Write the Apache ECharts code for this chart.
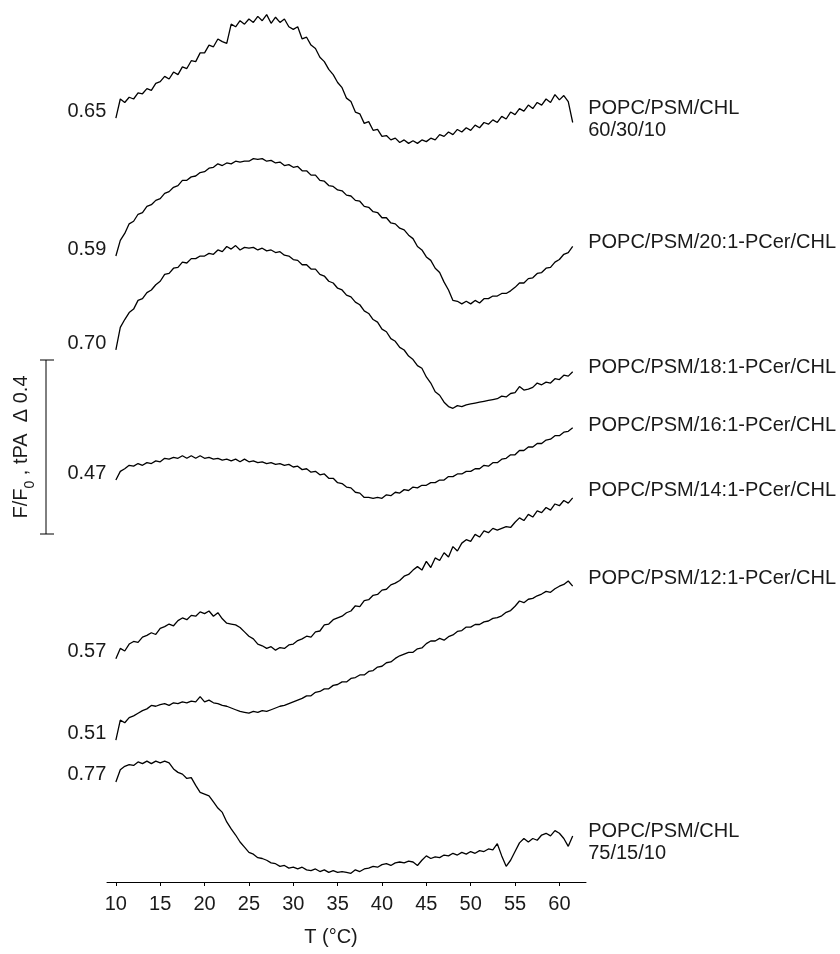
<!DOCTYPE html>
<html>
<head>
<meta charset="utf-8">
<script src="https://cdn.jsdelivr.net/npm/echarts@6/dist/echarts.min.js"></script>
<style>html,body{margin:0;padding:0;background:#fff}#c{width:840px;height:954px}</style>
</head>
<body>
<div id="c"></div>
<script>
// Temperature (°C) sampling points
const temps = [
  10,10.5,11,11.5,12,12.5,13,13.5,14,14.5,
  15,15.5,16,16.5,17,17.5,18,18.5,19,19.5,
  20,20.5,21,21.5,22,22.5,23,23.5,24,24.5,
  25,25.5,26,26.5,27,27.5,28,28.5,29,29.5,
  30,30.5,31,31.5,32,32.5,33,33.5,34,34.5,
  35,35.5,36,36.5,37,37.5,38,38.5,39,39.5,
  40,40.5,41,41.5,42,42.5,43,43.5,44,44.5,
  45,45.5,46,46.5,47,47.5,48,48.5,49,49.5,
  50,50.5,51,51.5,52,52.5,53,53.5,54,54.5,
  55,55.5,56,56.5,57,57.5,58,58.5,59,59.5,
  60,60.5,61,61.5
];

// F/F0 of tPA, one array per membrane composition
const chl603010 = [
  0.650,0.694,0.686,0.698,0.694,0.708,0.706,0.718,0.714,0.730,
  0.734,0.746,0.740,0.756,0.750,0.768,0.764,0.782,0.780,0.800,
  0.800,0.818,0.814,0.832,0.826,0.822,0.866,0.860,0.874,0.866,
  0.878,0.870,0.884,0.874,0.888,0.868,0.882,0.870,0.878,0.860,
  0.854,0.860,0.832,0.836,0.818,0.810,0.790,0.780,0.762,0.750,
  0.732,0.720,0.696,0.688,0.664,0.660,0.638,0.642,0.622,0.624,
  0.608,0.610,0.600,0.604,0.594,0.600,0.592,0.598,0.592,0.600,
  0.596,0.604,0.600,0.612,0.608,0.618,0.612,0.624,0.618,0.628,
  0.622,0.634,0.628,0.640,0.636,0.646,0.640,0.654,0.648,0.664,
  0.658,0.672,0.666,0.680,0.672,0.686,0.680,0.694,0.686,0.704,
  0.692,0.702,0.688,0.640
];
const pcer201 = [
  0.590,0.626,0.642,0.664,0.670,0.686,0.690,0.704,0.708,0.718,
  0.722,0.734,0.738,0.748,0.752,0.764,0.764,0.772,0.774,0.782,
  0.784,0.792,0.794,0.802,0.798,0.804,0.802,0.808,0.806,0.808,
  0.808,0.814,0.812,0.814,0.808,0.810,0.804,0.806,0.798,0.800,
  0.794,0.796,0.786,0.786,0.776,0.776,0.764,0.762,0.752,0.750,
  0.742,0.740,0.730,0.728,0.718,0.716,0.704,0.702,0.692,0.690,
  0.678,0.678,0.666,0.664,0.654,0.650,0.638,0.630,0.612,0.604,
  0.588,0.580,0.562,0.552,0.530,0.512,0.488,0.486,0.480,0.486,
  0.480,0.488,0.482,0.492,0.492,0.498,0.498,0.504,0.504,0.510,
  0.518,0.528,0.528,0.538,0.540,0.550,0.552,0.562,0.564,0.576,
  0.582,0.594,0.598,0.612
];
const pcer181 = [
  0.700,0.752,0.770,0.786,0.794,0.814,0.818,0.832,0.838,0.850,
  0.858,0.874,0.876,0.888,0.890,0.902,0.900,0.910,0.910,0.916,
  0.916,0.922,0.920,0.930,0.926,0.938,0.932,0.940,0.930,0.936,
  0.934,0.936,0.930,0.934,0.928,0.930,0.924,0.926,0.918,0.916,
  0.908,0.906,0.896,0.896,0.886,0.886,0.874,0.870,0.858,0.854,
  0.842,0.838,0.826,0.822,0.810,0.804,0.790,0.784,0.770,0.764,
  0.748,0.742,0.726,0.720,0.706,0.700,0.686,0.678,0.664,0.658,
  0.638,0.624,0.604,0.596,0.580,0.570,0.566,0.572,0.570,0.574,
  0.576,0.578,0.580,0.582,0.584,0.586,0.588,0.594,0.592,0.600,
  0.602,0.616,0.608,0.610,0.614,0.624,0.620,0.626,0.624,0.634,
  0.632,0.642,0.640,0.650
];
const pcer161 = [
  0.470,0.490,0.496,0.504,0.502,0.508,0.504,0.510,0.508,0.514,
  0.512,0.520,0.518,0.522,0.520,0.526,0.520,0.526,0.520,0.526,
  0.520,0.522,0.518,0.520,0.516,0.518,0.514,0.518,0.512,0.518,
  0.512,0.514,0.510,0.512,0.508,0.510,0.506,0.508,0.504,0.506,
  0.500,0.502,0.494,0.496,0.488,0.490,0.482,0.484,0.474,0.474,
  0.464,0.462,0.454,0.452,0.442,0.440,0.430,0.430,0.428,0.430,
  0.428,0.436,0.434,0.442,0.440,0.448,0.446,0.454,0.452,0.458,
  0.458,0.464,0.464,0.470,0.470,0.478,0.478,0.484,0.484,0.490,
  0.490,0.496,0.496,0.504,0.502,0.510,0.510,0.518,0.520,0.528,
  0.528,0.538,0.538,0.546,0.546,0.554,0.554,0.562,0.564,0.572,
  0.572,0.580,0.582,0.590
];
const pcer141 = [
  0.566,0.590,0.584,0.600,0.606,0.604,0.616,0.620,0.626,0.622,
  0.636,0.640,0.646,0.642,0.654,0.660,0.656,0.666,0.664,0.674,
  0.670,0.676,0.664,0.672,0.658,0.648,0.646,0.644,0.638,0.628,
  0.618,0.612,0.600,0.596,0.590,0.594,0.586,0.592,0.590,0.598,
  0.600,0.608,0.612,0.618,0.616,0.628,0.630,0.644,0.646,0.656,
  0.660,0.664,0.672,0.676,0.688,0.686,0.700,0.702,0.712,0.714,
  0.724,0.726,0.736,0.740,0.746,0.756,0.760,0.770,0.778,0.770,
  0.790,0.776,0.798,0.792,0.810,0.800,0.824,0.814,0.832,0.840,
  0.836,0.852,0.846,0.860,0.856,0.866,0.862,0.866,0.870,0.868,
  0.880,0.890,0.884,0.898,0.892,0.906,0.902,0.914,0.908,0.922,
  0.918,0.930,0.924,0.936
];
const pcer121 = [
  0.510,0.556,0.550,0.562,0.566,0.572,0.578,0.582,0.590,0.588,
  0.592,0.594,0.590,0.596,0.594,0.598,0.596,0.600,0.598,0.610,
  0.598,0.602,0.596,0.594,0.590,0.588,0.584,0.580,0.576,0.574,
  0.572,0.576,0.574,0.578,0.576,0.580,0.584,0.588,0.590,0.594,
  0.598,0.602,0.606,0.612,0.612,0.620,0.622,0.628,0.628,0.636,
  0.638,0.644,0.644,0.652,0.654,0.660,0.660,0.668,0.670,0.678,
  0.680,0.688,0.690,0.698,0.704,0.708,0.712,0.712,0.720,0.722,
  0.732,0.738,0.738,0.744,0.740,0.748,0.752,0.760,0.762,0.770,
  0.770,0.776,0.776,0.782,0.784,0.790,0.792,0.796,0.804,0.808,
  0.818,0.830,0.826,0.834,0.836,0.842,0.846,0.852,0.850,0.858,
  0.864,0.868,0.876,0.864
];
const chl751510 = [
  0.770,0.798,0.806,0.810,0.808,0.816,0.812,0.818,0.812,0.818,
  0.814,0.818,0.814,0.800,0.792,0.788,0.778,0.780,0.762,0.746,
  0.742,0.738,0.724,0.710,0.700,0.678,0.662,0.648,0.632,0.620,
  0.608,0.604,0.596,0.594,0.590,0.584,0.582,0.576,0.578,0.572,
  0.574,0.570,0.574,0.568,0.566,0.570,0.564,0.568,0.562,0.566,
  0.562,0.564,0.562,0.560,0.568,0.564,0.570,0.572,0.576,0.574,
  0.580,0.582,0.578,0.584,0.586,0.584,0.588,0.586,0.578,0.590,
  0.600,0.594,0.598,0.596,0.602,0.600,0.606,0.602,0.608,0.604,
  0.610,0.606,0.612,0.610,0.616,0.614,0.628,0.600,0.576,0.590,
  0.610,0.630,0.640,0.632,0.640,0.636,0.648,0.652,0.646,0.658,
  0.652,0.640,0.622,0.646
];

const curveNames = [
  'POPC/PSM/CHL\n60/30/10',
  'POPC/PSM/20:1-PCer/CHL',
  'POPC/PSM/18:1-PCer/CHL',
  'POPC/PSM/16:1-PCer/CHL',
  'POPC/PSM/14:1-PCer/CHL',
  'POPC/PSM/12:1-PCer/CHL',
  'POPC/PSM/CHL\n75/15/10'
];
const startLabels = ['0.65', '0.59', '0.70', '0.47', '0.57', '0.51', '0.77'];
const tickValues = [10, 15, 20, 25, 30, 35, 40, 45, 50, 55, 60];
const scaleBarSize = 0.4;

// ---- layout (vertical stacking of the traces, label nudges) ----
const curves = [chl603010, pcer201, pcer181, pcer161, pcer141, pcer121, chl751510];
const stackOffsets = [1.106, 0.849, 0.523, 0.454, -0.053, -0.184, -0.540];
const endNudge = [-3, -4, -4, -2, -7, -8, 7];
const scaleBarBottom = 0.8;

const FONT = '"Liberation Sans", Arial, Helvetica, sans-serif';
const TXT = '#1a1a1a';

const chart = echarts.init(document.getElementById('c'), null, {renderer: 'canvas'});

const series = curves.map((vals, i) => {
  const off = stackOffsets[i];
  const last = vals.length - 1;
  return {
    type: 'line',
    name: curveNames[i],
    data: vals.map((v, j) => [temps[j], v + off]),
    showSymbol: false,
    symbol: 'none',
    silent: true,
    animation: false,
    lineStyle: {color: '#000', width: 1.3},
    markPoint: {
      silent: true,
      animation: false,
      symbol: 'circle',
      symbolSize: 1,
      itemStyle: {color: 'rgba(0,0,0,0)'},
      data: [
        {
          coord: [temps[0], vals[0] + off],
          label: {
            show: true, position: 'left', distance: 9, offset: [0, -7],
            formatter: startLabels[i], fontSize: 20, fontFamily: FONT, color: TXT
          }
        },
        {
          coord: [temps[last], vals[last] + off],
          label: {
            show: true, position: 'right', distance: 15, offset: [0, endNudge[i]],
            formatter: curveNames[i], fontSize: 20, lineHeight: 22, fontFamily: FONT, color: TXT, align: 'left'
          }
        }
      ]
    }
  };
});

chart.setOption({
  animation: false,
  backgroundColor: '#fff',
  grid: {left: 107, right: 254, top: 12, bottom: 72, containLabel: false},
  xAxis: {
    type: 'value', min: 9, max: 63,
    axisLine: {show: true, onZero: false, lineStyle: {color: '#000', width: 1}},
    axisTick: {show: true, customValues: tickValues, length: 4, lineStyle: {color: '#000', width: 1}},
    axisLabel: {show: true, customValues: tickValues, fontSize: 20, fontFamily: FONT, color: TXT, margin: 12},
    splitLine: {show: false}
  },
  yAxis: {type: 'value', min: 0, max: 2, show: false, splitLine: {show: false}},
  series: series
});

const yTop = chart.convertToPixel({yAxisIndex: 0}, scaleBarBottom + scaleBarSize);
const yBot = chart.convertToPixel({yAxisIndex: 0}, scaleBarBottom);
const barX = 46;

chart.setOption({
  graphic: [
    {type: 'line', silent: true, shape: {x1: barX, y1: yTop, x2: barX, y2: yBot}, style: {stroke: '#000', lineWidth: 1}},
    {type: 'line', silent: true, shape: {x1: barX - 6, y1: yTop, x2: barX + 8, y2: yTop}, style: {stroke: '#000', lineWidth: 1}},
    {type: 'line', silent: true, shape: {x1: barX - 6, y1: yBot, x2: barX + 8, y2: yBot}, style: {stroke: '#000', lineWidth: 1}},
    {
      type: 'text', silent: true, x: 22, y: (yTop + yBot) / 2, rotation: Math.PI / 2,
      style: {
        text: '{a|F/F}{s|0}{a| , tPA  Δ ' + scaleBarSize.toFixed(1) + '}',
        align: 'center', verticalAlign: 'middle',
        fill: TXT, font: '20px ' + FONT,
        rich: {
          a: {fontSize: 20, fontFamily: FONT, fill: TXT, lineHeight: 22, verticalAlign: 'top'},
          s: {fontSize: 14, fontFamily: FONT, fill: TXT, lineHeight: 12, padding: [12, 0, 0, 0], verticalAlign: 'top'}
        }
      }
    },
    {
      type: 'text', silent: true, x: 331, y: 937,
      style: {text: 'T (°C)', align: 'center', verticalAlign: 'middle', fill: TXT, font: '20px ' + FONT}
    }
  ]
});
</script>
</body>
</html>
